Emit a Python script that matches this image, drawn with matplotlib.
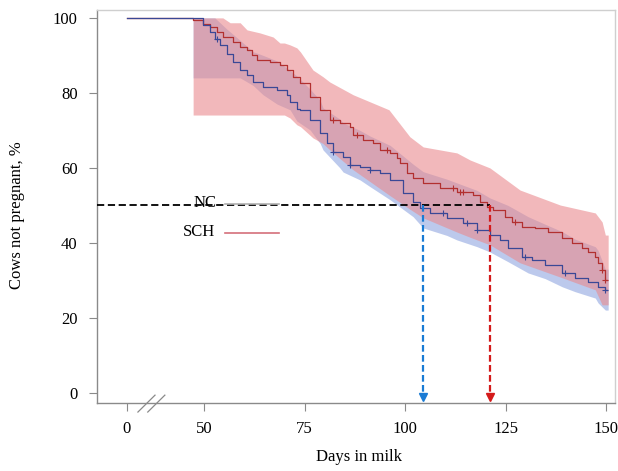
import numpy as np
import matplotlib
matplotlib.use("Agg")
import matplotlib.pyplot as plt

plt.rcParams['font.family'] = ['Liberation Serif', 'DejaVu Serif']

# ---------------- data ----------------
# SCH (red) Kaplan-Meier curve
sch_days = [0, 47.3, 49.8, 51.5, 53.2, 54.7, 57.2, 59.0, 60.7, 61.9, 63.2, 66.4, 68.9, 70.6,
            72.1, 73.9, 76.4, 78.9, 81.3, 83.8, 86.3, 87.1, 89.6, 92.0, 93.8, 96.3, 98.0,
            98.8, 100.5, 102.0, 104.5, 108.7, 112.9, 116.9, 118.7, 120.4, 121.9, 124.9,
            126.6, 129.1, 132.3, 135.6, 139.1, 141.5, 144.0, 145.5, 147.3, 148.0, 149.0,
            149.8, 150.3]
sch_surv = [100, 99.4, 98.4, 97.6, 96.3, 94.9, 93.6, 92.3, 91.5, 90.1, 88.8, 88.3, 87.5, 86.1,
            84.3, 82.7, 78.9, 75.5, 72.8, 72.0, 70.9, 68.8, 67.5, 66.7, 64.8, 64.0, 62.7,
            61.3, 58.7, 57.3, 56.0, 54.7, 53.6, 52.8, 50.9, 49.6, 48.8, 46.9,
            45.6, 44.3, 44.0, 42.9, 41.3, 40.0, 38.7, 37.6, 36.3, 34.7, 32.8,
            30.1, 30.1]
# NC (blue) Kaplan-Meier curve
nc_days = [0, 49.8, 51.5, 52.7, 54.0, 55.7, 57.2, 59.0, 60.7, 62.2, 64.7, 68.2, 70.6, 71.4,
           73.1, 73.9, 76.4, 78.9, 80.6, 82.1, 84.6, 86.3, 88.8, 91.3, 93.8, 96.3, 99.5,
           102.0, 103.7, 106.2, 110.4, 114.4, 117.9, 121.1, 123.6, 125.6, 129.1, 131.6,
           134.8, 139.1, 142.3, 145.5, 148.0, 149.8, 150.3]
nc_surv = [100, 98.1, 96.3, 94.4, 92.8, 90.4, 88.3, 86.1, 84.8, 82.9, 81.6, 80.8, 79.5, 77.6,
           75.7, 75.5, 72.8, 69.3, 66.7, 64.3, 62.9, 60.8, 60.3, 59.5, 58.7, 56.8, 53.3,
           50.9, 49.3, 48.0, 46.7, 45.3, 43.5, 42.1, 40.8, 38.7, 36.3, 35.5,
           34.1, 32.0, 30.7, 29.6, 28.3, 27.5, 27.5]

# confidence bands
sch_band_days = [47.3, 54.7, 56.5, 59.0, 60.7, 63.9, 67.2, 68.9, 70.0, 71.4, 73.1, 74.0, 77.1,
                 79.6, 81.3, 87.1, 96.0, 101.2, 104.5, 112.9, 116.2, 121.1, 128.6, 138.6,
                 147.3, 149.0, 149.8, 150.5]
sch_band_hi = [100, 100, 98.7, 98.7, 96.8, 96.0, 94.9, 93.3, 93.3, 92.8, 92.0, 90.9, 86.1,
               84.3, 82.9, 79.5, 75.5, 68.3, 65.6, 64.0, 62.1, 60.0, 54.1, 50.1,
               48.0, 45.6, 42.1, 42.1]
sch_band_lo = [74.1, 74.1, 74.1, 74.1, 74.1, 74.1, 74.1, 74.1, 74.1, 73.3, 71.5, 71.0, 68.0,
               66.5, 64.8, 59.5, 52.8, 49.0, 46.7, 42.9, 41.5, 39.5, 34.7, 30.9,
               27.5, 23.5, 23.5, 23.5]

nc_band_days = [47.3, 52.7, 55.7, 59.0, 62.2, 64.7, 68.2, 71.4, 73.1, 76.4, 78.9, 79.6, 83.8,
                84.6, 88.8, 91.3, 96.3, 102.0, 104.5, 110.4, 112.9, 117.9, 121.1, 125.6,
                130.6, 134.8, 139.1, 142.3, 147.3, 148.0, 149.8, 150.5]
nc_band_hi = [100, 100, 97, 94, 91, 90, 88.5, 86, 84.5, 81, 78, 76, 73,
              72, 70, 68.5, 66, 61, 59, 57, 56, 54, 52, 50,
              47, 45, 43, 41, 39, 38, 33, 33]
nc_band_lo = [84, 84, 84, 84, 82, 79.5, 77, 75.5, 72.5, 70.1, 66.5, 64.8, 60,
              58.9, 56.8, 55, 51.5, 47, 44, 42, 40.8, 39, 37.6, 35,
              32, 30.5, 28.3, 27, 25.3, 24, 22.1, 22.1]

# censoring marks
sch_censor = [82.1, 88.0, 95.5, 112.0, 113.7, 114.4, 127.4, 149.0, 149.8]
nc_censor = [53.2, 82.1, 86.3, 91.3, 109.5, 115.4, 118.0, 129.9, 139.8, 149.8]

medians = {'NC': 104.5, 'SCH': 121.0}
x_ticks = [0, 50, 75, 100, 125, 150]
y_ticks = [0, 20, 40, 60, 80, 100]

ZERO_POS = 30.85  # where day 0 sits on the broken axis


def xpos(d):
    d = np.asarray(d, dtype=float)
    return np.where(d < ZERO_POS, ZERO_POS, d)


def step_val(days, surv, t):
    days = np.asarray(days)
    idx = np.searchsorted(days, t, side='right') - 1
    return np.asarray(surv)[idx]


fig = plt.figure(figsize=(6.18, 4.71), dpi=100)
ax = fig.add_axes([97/618, 1-403/471, 518/618, 393/471])

red_line = '#b23030'
blue_line = '#3a4896'

ax.fill_between(xpos(nc_band_days), nc_band_lo, nc_band_hi,
                color='#a6b8e6', alpha=0.75, lw=0, zorder=1)
ax.fill_between(xpos(sch_band_days), sch_band_lo, sch_band_hi,
                color='#ea8a8e', alpha=0.6, lw=0, zorder=2)

ax.step(xpos(sch_days), sch_surv, where='post', color=red_line, lw=0.9, zorder=4)
ax.step(xpos(nc_days), nc_surv, where='post', color=blue_line, lw=0.9, zorder=4)

ax.plot(sch_censor, step_val(sch_days, sch_surv, sch_censor), ls='none', marker='+',
        ms=5, mew=0.8, color=red_line, zorder=5)
ax.plot(nc_censor, step_val(nc_days, nc_surv, nc_censor), ls='none', marker='+',
        ms=5, mew=0.8, color=blue_line, zorder=5)

# median lines
x0 = 23.4
ax.plot([x0, medians['SCH']], [50, 50], color='black', ls=(0, (4, 2)), lw=1.3, zorder=6)
for key, col in (('NC', '#1a7bd4'), ('SCH', '#d41a1a')):
    ax.plot([medians[key], medians[key]], [50, -0.3], color=col, ls=(0, (3, 1.5)), lw=1.6, zorder=6)
    ax.plot([medians[key]], [-1.0], marker='v', ms=6, color=col, zorder=6, clip_on=False)

# legend (manual)
ax.text(0.2085, 0.509, 'NC', transform=ax.transAxes, ha='center', va='center', fontsize=12, zorder=7)
ax.plot([0.247, 0.352], [0.506, 0.506], transform=ax.transAxes, color='#b0b0b0', lw=1.2, zorder=7)
ax.text(0.197, 0.435, 'SCH', transform=ax.transAxes, ha='center', va='center', fontsize=12, zorder=7)
ax.plot([0.247, 0.352], [0.433, 0.433], transform=ax.transAxes, color='#d4707a', lw=1.2, zorder=7)

ax.set_xlim(23.4, 152.2)
ax.set_ylim(-2.67, 102.1)
ax.set_xticks(xpos(x_ticks))
ax.set_xticklabels([str(t) for t in x_ticks])
ax.set_yticks(y_ticks)
ax.set_yticklabels([str(t) for t in y_ticks])

for s in ('left', 'bottom'):
    ax.spines[s].set_color('#8a8a8a')
    ax.spines[s].set_linewidth(1.0)
for s in ('top', 'right'):
    ax.spines[s].set_color('#cfcfcf')
    ax.spines[s].set_linewidth(1.0)

ax.tick_params(axis='both', colors='#8a8a8a', labelcolor='black', labelsize=12, length=6, width=0.8)
ax.tick_params(axis='y', pad=8)
ax.tick_params(axis='x', pad=7)

# axis break marks
for dx in (0.0, 0.019):
    ax.plot([0.079 + dx, 0.112 + dx], [-0.023, 0.020], transform=ax.transAxes,
            color='#8a8a8a', lw=0.9, clip_on=False, zorder=8)

ax.set_xlabel('Days in milk', fontsize=12)
ax.set_ylabel('Cows not pregnant, %', fontsize=12)
ax.xaxis.set_label_coords(0.506, -0.118)
ax.yaxis.set_label_coords(-0.139, 0.478)

fig.savefig('out.png', dpi=100)
